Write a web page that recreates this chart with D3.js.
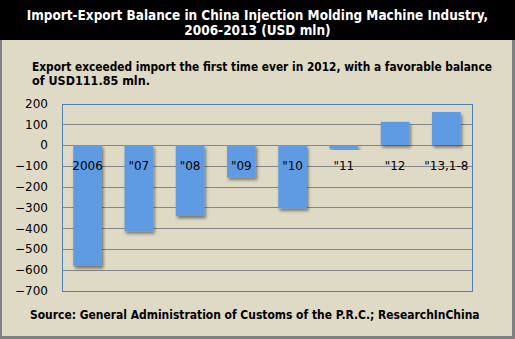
<!DOCTYPE html>
<html><head><meta charset="utf-8">
<script src="https://cdn.jsdelivr.net/npm/d3@7"></script>
<style>html,body{margin:0;padding:0;background:#fff}svg{display:block}</style>
</head><body>
<script>
const categories = ["2006", "\"07", "\"08", "\"09", "\"10", "\"11", "\"12", "\"13,1-8"];
const values = [-582, -415, -341, -156, -305, -18, 111.85, 159];
const yTicks = [200, 100, 0, -100, -200, -300, -400, -500, -600, -700];
const titleLines = ["Import-Export Balance in China Injection Molding Machine Industry,", "2006-2013 (USD mln)"];
const noteLines = ["Export exceeded import the first time ever in 2012, with a favorable balance", "of USD111.85 mln."];
const sourceText = "Source: General Administration of Customs of the P.R.C.; ResearchInChina";

const W = 515, H = 339;
const svg = d3.select("body").append("svg").attr("width", W).attr("height", H);
const font = "'DejaVu Sans', Verdana, sans-serif";
const cfont = "'DejaVu Sans Condensed', 'DejaVu Sans', sans-serif";

const defs = svg.append("defs");
const f = defs.append("filter").attr("id", "sh").attr("x", "-20%").attr("y", "-20%").attr("width", "150%").attr("height", "150%");
f.append("feDropShadow").attr("dx", 1.5).attr("dy", 2.5).attr("stdDeviation", 1.5).attr("flood-color", "#000").attr("flood-opacity", 0.45);

svg.append("rect").attr("x", 0).attr("y", 0).attr("width", W).attr("height", H).attr("fill", "#808080");
svg.append("rect").attr("x", 2).attr("y", 2).attr("width", W - 5).attr("height", H - 5).attr("fill", "#dfdac5");
svg.append("rect").attr("x", 0).attr("y", 0).attr("width", W).attr("height", 40).attr("fill", "#000");

function fit(sel, target) {
  sel.each(function(d) {
    const w = this.getComputedTextLength();
    const t = typeof target === "function" ? target(d) : target;
    if (w > t) {
      const fs = parseFloat(this.getAttribute("font-size"));
      this.setAttribute("font-size", (fs * t / w).toFixed(2));
    }
  });
}

// Title
const tl = [{t: titleLines[0], y: 19.5, w: 462}, {t: titleLines[1], y: 34.5, w: 154}];
const tt = svg.selectAll("text.title").data(tl).join("text").attr("class", "title")
  .attr("x", W / 2).attr("y", d => d.y).attr("text-anchor", "middle")
  .attr("font-family", cfont).attr("font-weight", "bold").attr("font-size", 13.5)
  .attr("fill", "#fff")
  .text(d => d.t);
fit(tt, d => d.w);

// Note
const nl = [{t: noteLines[0], y: 70.5, w: 460}, {t: noteLines[1], y: 84.5, w: 118}];
const nt = svg.selectAll("text.note").data(nl).join("text").attr("class", "note")
  .attr("x", 32).attr("y", d => d.y)
  .attr("font-family", cfont).attr("font-weight", "bold").attr("font-size", 12.5)
  .attr("fill", "#000")
  .text(d => d.t);
fit(nt, d => d.w);

// Plot
const x0 = 62, x1 = 472;
const x = d3.scaleBand().domain(categories).range([x0, x1]).paddingInner(0.44).paddingOuter(0.22);
const y = d3.scaleLinear().domain([-700, 200]).range([290.5, 103.5]);

const g = svg.append("g");
g.selectAll("line.grid").data(yTicks.filter(t => t !== 200 && t !== -700)).join("line").attr("class", "grid")
  .attr("x1", x0).attr("x2", x1).attr("y1", d => Math.round(y(d)) + 0.5).attr("y2", d => Math.round(y(d)) + 0.5)
  .attr("stroke", "#868686").attr("stroke-width", 1);

g.selectAll("rect.bar").data(values).join("rect").attr("class", "bar")
  .attr("x", (d, i) => x(categories[i]))
  .attr("width", x.bandwidth())
  .attr("y", d => y(Math.max(0, d)))
  .attr("height", d => Math.abs(y(d) - y(0)))
  .attr("fill", "#5f9be2").attr("filter", "url(#sh)");

g.append("rect").attr("x", x0 + 0.5).attr("y", Math.round(y(200)) + 0.5)
  .attr("width", x1 - x0).attr("height", Math.round(y(-700)) - Math.round(y(200)))
  .attr("fill", "none").attr("stroke", "#4f81bd").attr("stroke-width", 1);

const yAxis = d3.axisLeft(y).tickValues(yTicks).tickSize(0).tickPadding(14);
const ya = svg.append("g").attr("transform", `translate(${x0},0)`).call(yAxis);
ya.select(".domain").remove();
ya.selectAll("text").attr("font-family", font).attr("font-size", 12).attr("fill", "#000");

// Category labels
svg.selectAll("text.cat").data(categories).join("text").attr("class", "cat")
  .attr("x", d => x(d) + x.bandwidth() / 2).attr("y", y(-100) + 4.5)
  .attr("text-anchor", "middle").attr("font-family", font).attr("font-size", 12).attr("fill", "#000")
  .text(d => d);

// Source
const st = svg.append("text").datum(450).attr("x", 30).attr("y", 318.5)
  .attr("font-family", cfont).attr("font-weight", "bold").attr("font-size", 12.5).attr("fill", "#000")
  .text(sourceText);
fit(st, 450);
</script>
</body></html>
